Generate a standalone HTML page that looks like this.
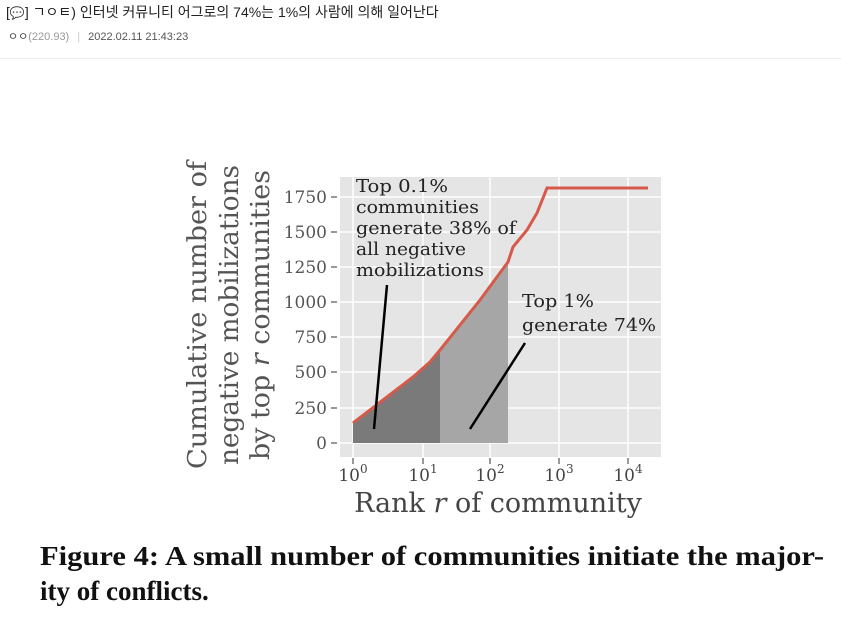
<!DOCTYPE html>
<html><head><meta charset="utf-8"><style>
html,body{margin:0;padding:0;background:#fff;width:841px;height:629px;overflow:hidden}
</style></head><body>
<svg width="841" height="629" xmlns="http://www.w3.org/2000/svg">
<rect width="841" height="629" fill="#fff"/>
<text x="6" y="17" font-family="'Liberation Sans','Noto Sans CJK KR',sans-serif" font-size="14" fill="#222">[<tspan font-size="12">💬</tspan>] ㄱㅇㅌ) 인터넷 커뮤니티 어그로의 74%는 1%의 사람에 의해 일어난다</text>
<text x="8" y="40" font-family="'Liberation Sans','Noto Sans CJK KR',sans-serif" font-size="11" fill="#444">ㅇㅇ<tspan fill="#999">(220.93)</tspan><tspan fill="#ccc" dx="8">|</tspan><tspan dx="8" fill="#555">2022.02.11 21:43:23</tspan></text>
<line x1="0" y1="58.5" x2="841" y2="58.5" stroke="#eee"/>
<rect x="340" y="177" width="321" height="280" fill="#e5e5e5"/>
<g stroke="#fff" stroke-width="1.5">
<line x1="340" y1="443" x2="661" y2="443"/><line x1="340" y1="408" x2="661" y2="408"/>
<line x1="340" y1="372" x2="661" y2="372"/><line x1="340" y1="337" x2="661" y2="337"/>
<line x1="340" y1="302" x2="661" y2="302"/><line x1="340" y1="267" x2="661" y2="267"/>
<line x1="340" y1="232" x2="661" y2="232"/><line x1="340" y1="197" x2="661" y2="197"/>
<line x1="353" y1="177" x2="353" y2="457"/><line x1="423" y1="177" x2="423" y2="457"/>
<line x1="490" y1="177" x2="490" y2="457"/><line x1="559" y1="177" x2="559" y2="457"/>
<line x1="628" y1="177" x2="628" y2="457"/>
</g>
<path d="M353,423 L383,400 L413,377 L430,362 L440,350 L440,443 L353,443Z" fill="#7a7a7a"/>
<path d="M440,350 L480,300 L508,263 L508,443 L440,443Z" fill="#a6a6a6"/>
<path d="M353,423 L383,400 L413,377 L430,362 L440,350 L480,300 L508,262 L513,247 L527,230 L537,213 L547,188 L648,188" fill="none" stroke="#d65a4a" stroke-width="3"/>
<line x1="387" y1="285" x2="374" y2="429" stroke="#000" stroke-width="2.5"/>
<line x1="525" y1="343" x2="470" y2="429" stroke="#000" stroke-width="2.5"/>
<g font-family="'DejaVu Serif','Liberation Serif',serif" font-size="18" fill="#222">
<text x="356" y="192" textLength="92" lengthAdjust="spacingAndGlyphs">Top 0.1%</text>
<text x="356" y="213" textLength="123" lengthAdjust="spacingAndGlyphs">communities</text>
<text x="356" y="234" textLength="160" lengthAdjust="spacingAndGlyphs">generate 38% of</text>
<text x="356" y="255" textLength="110" lengthAdjust="spacingAndGlyphs">all negative</text>
<text x="356" y="276" textLength="128" lengthAdjust="spacingAndGlyphs">mobilizations</text>
<text x="522" y="307" textLength="72" lengthAdjust="spacingAndGlyphs">Top 1%</text>
<text x="522" y="331" textLength="134" lengthAdjust="spacingAndGlyphs">generate 74%</text>
</g>
<g font-family="'DejaVu Serif','Liberation Serif',serif" font-size="17" fill="#555" text-anchor="end">
<text x="327" y="449">0</text><text x="327" y="414">250</text><text x="327" y="378">500</text>
<text x="327" y="343">750</text><text x="327" y="308">1000</text><text x="327" y="273">1250</text>
<text x="327" y="238">1500</text><text x="327" y="203">1750</text>
</g>
<g stroke="#555" stroke-width="1.2">
<line x1="331" y1="443" x2="337" y2="443"/><line x1="331" y1="408" x2="337" y2="408"/>
<line x1="331" y1="372" x2="337" y2="372"/><line x1="331" y1="337" x2="337" y2="337"/>
<line x1="331" y1="302" x2="337" y2="302"/><line x1="331" y1="267" x2="337" y2="267"/>
<line x1="331" y1="232" x2="337" y2="232"/><line x1="331" y1="197" x2="337" y2="197"/>
<line x1="353" y1="458" x2="353" y2="464"/><line x1="423" y1="458" x2="423" y2="464"/>
<line x1="490" y1="458" x2="490" y2="464"/><line x1="559" y1="458" x2="559" y2="464"/>
<line x1="628" y1="458" x2="628" y2="464"/>
</g>
<g font-family="'DejaVu Serif','Liberation Serif',serif" font-size="17" fill="#444" text-anchor="middle">
<text x="353" y="481">10<tspan dy="-8" font-size="12">0</tspan></text>
<text x="423" y="481">10<tspan dy="-8" font-size="12">1</tspan></text>
<text x="490" y="481">10<tspan dy="-8" font-size="12">2</tspan></text>
<text x="559" y="481">10<tspan dy="-8" font-size="12">3</tspan></text>
<text x="628" y="481">10<tspan dy="-8" font-size="12">4</tspan></text>
</g>
<text x="498" y="512" text-anchor="middle" font-family="'DejaVu Serif','Liberation Serif',serif" font-size="27" fill="#444">Rank <tspan font-style="italic">r</tspan> of community</text>
<g font-family="'DejaVu Serif','Liberation Serif',serif" font-size="26" fill="#555" text-anchor="middle">
<text transform="translate(206,315) rotate(-90)" textLength="308" lengthAdjust="spacingAndGlyphs">Cumulative number of</text>
<text transform="translate(238,315) rotate(-90)" textLength="300" lengthAdjust="spacingAndGlyphs">negative mobilizations</text>
<text transform="translate(269,315) rotate(-90)" textLength="290" lengthAdjust="spacingAndGlyphs">by top <tspan font-style="italic">r</tspan> communities</text>
</g>
<g font-family="'Liberation Serif',serif" font-size="27" font-weight="bold" fill="#111">
<text x="40" y="565" textLength="784" lengthAdjust="spacingAndGlyphs">Figure 4: A small number of communities initiate the major-</text>
<text x="40" y="600">ity of conflicts.</text>
</g>
</svg>
</body></html>
